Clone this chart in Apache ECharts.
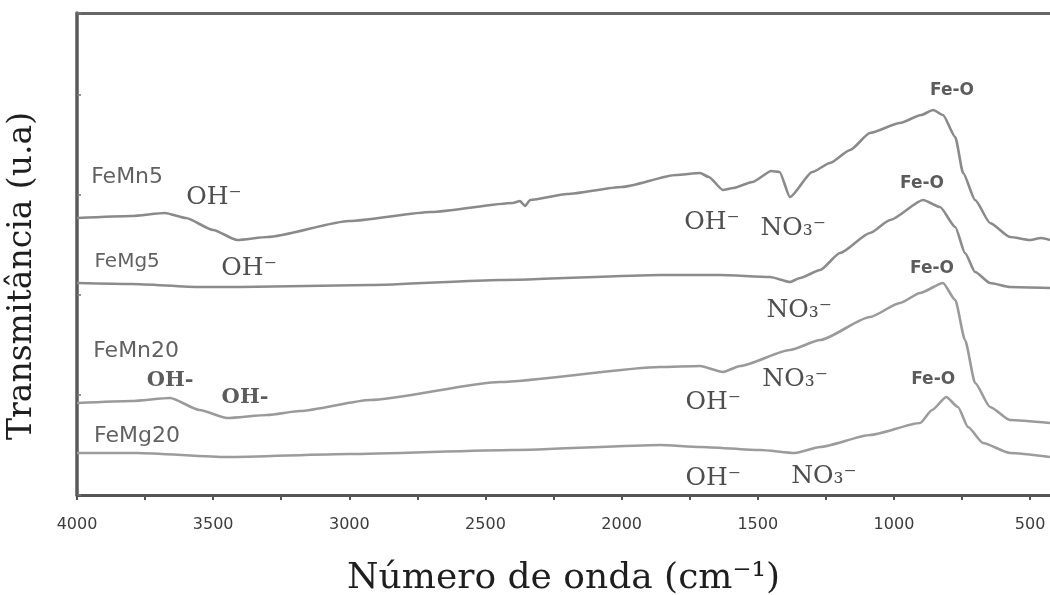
<!DOCTYPE html>
<html>
<head>
<meta charset="utf-8">
<title>FTIR</title>
<script src="https://cdn.jsdelivr.net/npm/echarts@6/dist/echarts.min.js"></script>
<style>
  html, body { margin: 0; padding: 0; background: #ffffff; }
  #chart { width: 1050px; height: 595px; }
</style>
</head>
<body>
<div id="chart"></div>
<script>
// FTIR spectra, offset vertically: [wavenumber (cm-1), transmittance (a.u.)]
const feMn5 = [
  [4000, 2.77], [3800, 2.79], [3677, 2.82], [3600, 2.77], [3500, 2.65], [3412, 2.55],
  [3300, 2.58], [3000, 2.74], [2700, 2.83], [2400, 2.92], [2373, 2.94], [2355, 2.89],
  [2336, 2.95], [2200, 3.01], [2000, 3.08], [1800, 3.20], [1712, 3.22], [1680, 3.18],
  [1628, 3.05], [1590, 3.07], [1520, 3.13], [1450, 3.24], [1420, 3.23], [1382, 2.98],
  [1300, 3.23], [1235, 3.32], [1161, 3.45], [1088, 3.62], [978, 3.72], [900, 3.80],
  [856, 3.85], [820, 3.80], [775, 3.58], [746, 3.22], [702, 2.95], [647, 2.72],
  [574, 2.58], [500, 2.55], [460, 2.57], [427, 2.55]
];
const feMg5 = [
  [4000, 2.12], [3800, 2.11], [3548, 2.08], [3400, 2.08], [2924, 2.10], [2447, 2.15],
  [1859, 2.20], [1639, 2.20], [1455, 2.18], [1382, 2.13], [1345, 2.17], [1271, 2.25],
  [1198, 2.42], [1088, 2.62], [1014, 2.75], [893, 2.95], [831, 2.88], [775, 2.68],
  [739, 2.42], [702, 2.23], [647, 2.12], [574, 2.08], [427, 2.07]
];
const feMn20 = [
  [4000, 0.92], [3800, 0.94], [3658, 0.97], [3550, 0.85], [3449, 0.77], [3300, 0.80],
  [3181, 0.84], [2924, 0.95], [2447, 1.13], [1859, 1.28], [1712, 1.29], [1628, 1.23],
  [1565, 1.29], [1382, 1.45], [1271, 1.55], [1088, 1.78], [978, 1.92], [904, 2.02],
  [820, 2.12], [775, 1.95], [739, 1.55], [702, 1.12], [647, 0.88], [574, 0.75], [427, 0.72]
];
const feMg20 = [
  [4000, 0.42], [3780, 0.42], [3449, 0.38], [3000, 0.41], [2400, 0.45], [1859, 0.50],
  [1712, 0.48], [1491, 0.45], [1364, 0.42], [1271, 0.48], [1088, 0.60], [904, 0.72],
  [860, 0.85], [808, 0.98], [765, 0.88], [728, 0.68], [673, 0.52], [574, 0.42], [427, 0.38]
];

const seriesNames = ['FeMn5', 'FeMg5', 'FeMn20', 'FeMg20'];
const xTicks = [4000, 3500, 3000, 2500, 2000, 1500, 1000, 500];
const xMinorTicks = [4000, 3750, 3500, 3250, 3000, 2750, 2500, 2250, 2000, 1750, 1500, 1250, 1000, 750, 500];

// Band and sample annotations: text, [wavenumber, transmittance], kind
const annoText = [
  'FeMn5', 'OH⁻', 'FeMg5', 'OH⁻', 'FeMn20', 'OH-', 'OH-', 'FeMg20',
  'OH⁻', 'NO₃⁻', 'Fe-O', 'Fe-O', 'NO₃⁻', 'Fe-O', 'OH⁻', 'NO₃⁻', 'Fe-O', 'OH⁻', 'NO₃⁻'
];
const annoAt = [
  [3816, 3.18], [3497, 2.98], [3816, 2.33], [3368, 2.27], [3783, 1.44], [3658, 1.14],
  [3383, 0.97], [3780, 0.59], [1668, 2.73], [1370, 2.67], [787, 4.04], [897, 3.11],
  [1348, 1.85], [860, 2.26], [1664, 0.93], [1363, 1.16], [856, 1.15], [1664, 0.17], [1257, 0.19]
];
const annoKind = [
  'sample', 'band', 'sampleSmall', 'band', 'sample', 'bandSmall', 'bandSmall', 'sample',
  'band', 'band', 'bond', 'bond', 'band', 'bond', 'band', 'band', 'bond', 'band', 'band'
];

const kindStyle = {
  sample:      { fontFamily: 'DejaVu Sans', fontSize: 22, color: '#3a3a3a' },
  sampleSmall: { fontFamily: 'DejaVu Sans', fontSize: 20, color: '#3a3a3a' },
  band:        { fontFamily: 'DejaVu Serif', fontSize: 25, color: '#222222' },
  bandSmall:   { fontFamily: 'DejaVu Serif', fontSize: 21, fontWeight: 'bold', color: '#333333' },
  bond:        { fontFamily: 'DejaVu Sans', fontSize: 17, fontWeight: 'bold', color: '#333333' }
};

const spectra = [feMn5, feMg5, feMn20, feMg20];
const lineColors = ['#8a8a8a', '#8c8c8c', '#9a9a9a', '#9c9c9c'];

const chart = echarts.init(document.getElementById('chart'), null, { renderer: 'canvas' });

const lineSeries = spectra.map((d, i) => ({
  name: seriesNames[i],
  type: 'line',
  data: d,
  showSymbol: false,
  smooth: 0.2,
  smoothMonotone: 'x',
  lineStyle: { color: lineColors[i], width: 2.6 },
  z: 3
}));

const annoSeries = {
  type: 'scatter',
  symbolSize: 0,
  silent: true,
  z: 5,
  data: annoText.map((t, i) => ({
    value: annoAt[i],
    label: Object.assign({ show: true, position: 'inside', formatter: t }, kindStyle[annoKind[i]])
  }))
};

chart.setOption({
  animation: false,
  backgroundColor: '#ffffff',
  grid: { left: 77, top: 13, bottom: 100, right: 0, containLabel: false, outerBoundsMode: 'none' },
  xAxis: [
    {
      type: 'value',
      min: 427,
      max: 4000,
      inverse: true,
      name: 'Número de onda (cm⁻¹)',
      nameLocation: 'middle',
      nameGap: 66,
      nameTextStyle: { fontFamily: 'DejaVu Serif', fontSize: 36, color: '#1e1e1e' },
      axisLine: { show: true, onZero: false, lineStyle: { color: '#555555', width: 3 } },
      axisTick: {
        show: true, length: 5, customValues: xMinorTicks,
        lineStyle: { color: '#555555', width: 2 }
      },
      axisLabel: {
        show: true, margin: 22, customValues: xTicks,
        fontFamily: 'DejaVu Sans', fontSize: 16, color: '#3c3c3c',
        formatter: v => String(v)
      },
      splitLine: { show: false }
    },
    {
      type: 'value',
      position: 'top',
      min: 427,
      max: 4000,
      inverse: true,
      axisLine: { show: true, onZero: false, lineStyle: { color: '#666666', width: 3 } },
      axisTick: { show: false },
      axisLabel: { show: false },
      splitLine: { show: false }
    }
  ],
  yAxis: {
    type: 'value',
    min: 0,
    max: 4.82,
    interval: 1,
    name: 'Transmitância (u.a)',
    nameLocation: 'middle',
    nameRotate: 90,
    nameGap: 38,
    nameTextStyle: {
      fontFamily: 'DejaVu Serif', fontSize: 33, color: '#1e1e1e',
      padding: [0, 44, 0, 0]
    },
    axisLine: { show: true, onZero: false, lineStyle: { color: '#5a5a5a', width: 3.5 } },
    axisTick: { show: true, inside: true, length: 4, lineStyle: { color: '#777777', width: 1.5 } },
    axisLabel: { show: false },
    splitLine: { show: false }
  },
  series: lineSeries.concat([annoSeries])
});
</script>
</body>
</html>
